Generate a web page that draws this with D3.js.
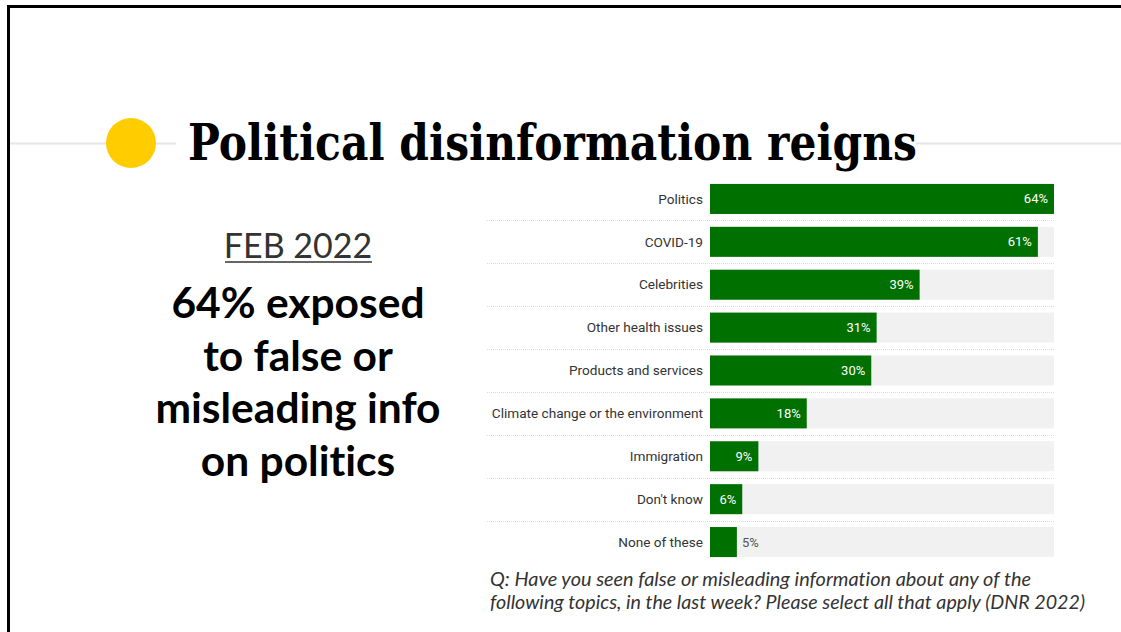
<!DOCTYPE html>
<html>
<head>
<meta charset="utf-8">
<script src="https://cdn.jsdelivr.net/npm/d3@7/dist/d3.min.js"></script>
<style>
  html, body { margin: 0; padding: 0; background: #fff; }
  svg { display: block; }
  text { font-variant-ligatures: none; font-feature-settings: "liga" 0, "dlig" 0; }
</style>
</head>
<body>
<svg id="chart" width="1121" height="632"></svg>
<script>
// Topics and share of respondents who saw false or misleading info about them
const topics = ["Politics", "COVID-19", "Celebrities", "Other health issues", "Products and services",
  "Climate change or the environment", "Immigration", "Don't know", "None of these"];
const shares = [64, 61, 39, 31, 30, 18, 9, 6, 5];
const valueLabels = ["64%", "61%", "39%", "31%", "30%", "18%", "9%", "6%", "5%"];

const titleText = "Political disinformation reigns";
const dateText = "FEB 2022";
const headlineLines = ["64% exposed", "to false or", "misleading info", "on politics"];
const noteLines = [
  "Q: Have you seen false or misleading information about any of the",
  "following topics, in the last week? Please select all that apply (DNR 2022)"
];
const noteWidths = [541, 595];

const svg = d3.select("#chart");

// Slide frame (top and left edges)
svg.append("line").attr("x1", 7).attr("x2", 1121).attr("y1", 6.5).attr("y2", 6.5)
  .attr("stroke", "#000").attr("stroke-width", 3);
svg.append("line").attr("x1", 8.5).attr("x2", 8.5).attr("y1", 5).attr("y2", 632)
  .attr("stroke", "#000").attr("stroke-width", 3);

// Title rule and bullet
svg.append("line").attr("x1", 10).attr("x2", 176).attr("y1", 143.5).attr("y2", 143.5)
  .attr("stroke", "#e6e6e6").attr("stroke-width", 2);
svg.append("line").attr("x1", 916).attr("x2", 1121).attr("y1", 143.5).attr("y2", 143.5)
  .attr("stroke", "#e6e6e6").attr("stroke-width", 2);
svg.append("circle").attr("cx", 131).attr("cy", 143).attr("r", 25).attr("fill", "#ffcc00");

svg.append("text")
  .attr("x", 188).attr("y", 160)
  .attr("font-family", "'DejaVu Serif', 'Liberation Serif', serif")
  .attr("font-weight", "bold")
  .attr("font-size", 50)
  .attr("textLength", 729).attr("lengthAdjust", "spacingAndGlyphs")
  .attr("fill", "#000")
  .text(titleText);

// Left-hand callout
const leftX = 298;
svg.append("text")
  .attr("x", leftX).attr("y", 258)
  .attr("text-anchor", "middle")
  .attr("font-family", "Lato, 'Open Sans', sans-serif")
  .attr("font-size", 34)
  .attr("fill", "#333")
  .text(dateText);
svg.append("line").attr("x1", 225).attr("x2", 372).attr("y1", 262).attr("y2", 262)
  .attr("stroke", "#333").attr("stroke-width", 1.5);

svg.append("g").selectAll("text").data(headlineLines).join("text")
  .attr("x", leftX)
  .attr("y", (d, i) => 318 + i * 52.5)
  .attr("text-anchor", "middle")
  .attr("font-family", "Lato, 'Open Sans', sans-serif")
  .attr("font-weight", "bold")
  .attr("font-size", 42.5)
  .attr("fill", "#000")
  .text(d => d);

// Bar chart
const x0 = 710, x1 = 1054;
const x = d3.scaleLinear().domain([0, d3.max(shares)]).range([x0, x1]);
const y = d3.scaleBand().domain(topics).range([177.5, 563.5]).paddingInner(0.3).paddingOuter(0.15);

const rows = svg.append("g").selectAll("g").data(topics).join("g");

// Background tracks
rows.append("rect")
  .attr("x", x0).attr("width", x1 - x0)
  .attr("y", d => y(d)).attr("height", y.bandwidth())
  .attr("fill", "#f1f1f1");

// Dotted separators between rows
svg.append("g").selectAll("line").data(topics.slice(0, -1)).join("line")
  .attr("x1", 487).attr("x2", x1)
  .attr("y1", d => Math.round(y(d) + y.bandwidth() + y.step() * y.paddingInner() / 2) + 0.5)
  .attr("y2", d => Math.round(y(d) + y.bandwidth() + y.step() * y.paddingInner() / 2) + 0.5)
  .attr("stroke", "#dcdcdc").attr("stroke-width", 1).attr("stroke-dasharray", "1,1");

// Bars
rows.append("rect")
  .attr("x", x0)
  .attr("y", d => y(d)).attr("height", y.bandwidth())
  .attr("width", (d, i) => x(shares[i]) - x0)
  .attr("fill", "#007000");

// Category labels
rows.append("text")
  .attr("x", x0 - 7)
  .attr("y", d => y(d) + y.bandwidth() / 2)
  .attr("dy", "0.35em")
  .attr("text-anchor", "end")
  .attr("font-family", "Roboto, sans-serif")
  .attr("font-size", 13.6)
  .attr("fill", "#333")
  .text(d => d);

// Value labels: inside the bar when it is wide enough, otherwise just after it
const inside = v => x(v) - x0 > 30;
rows.append("text")
  .attr("x", (d, i) => inside(shares[i]) ? x(shares[i]) - 6 : x(shares[i]) + 5)
  .attr("y", d => y(d) + y.bandwidth() / 2)
  .attr("dy", "0.35em")
  .attr("text-anchor", (d, i) => inside(shares[i]) ? "end" : "start")
  .attr("font-family", "Roboto, sans-serif")
  .attr("font-size", 13)
  .attr("fill", (d, i) => inside(shares[i]) ? "#fff" : "#555")
  .text((d, i) => valueLabels[i]);

// Survey question note
svg.append("g").selectAll("text").data(noteLines).join("text")
  .attr("x", 490)
  .attr("y", (d, i) => 586 + i * 23)
  .attr("font-family", "Lato, 'Open Sans', sans-serif")
  .attr("font-style", "italic")
  .attr("font-size", 19.5)
  .attr("textLength", (d, i) => noteWidths[i]).attr("lengthAdjust", "spacingAndGlyphs")
  .attr("fill", "#333")
  .text(d => d);
</script>
</body>
</html>
